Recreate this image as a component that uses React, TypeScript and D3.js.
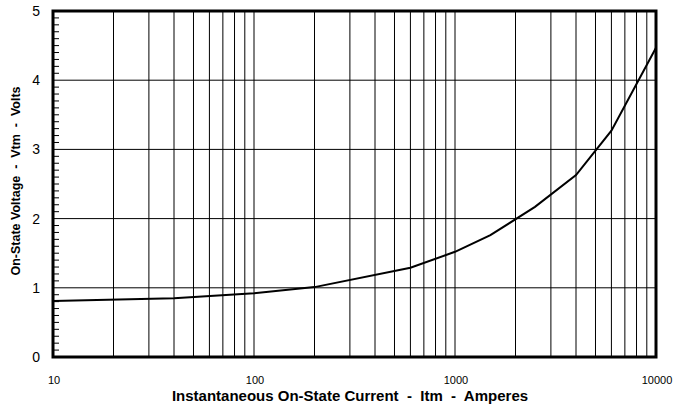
import { useRef, useEffect } from 'react';
import * as d3 from 'd3';

// current (A) vs on-state voltage (V)
const currents = [10, 40, 100, 200, 600, 1000, 1500, 2500, 4000, 6000, 10000];
const voltages = [0.81, 0.85, 0.92, 1.01, 1.29, 1.52, 1.76, 2.17, 2.63, 3.27, 4.47];
const xTickLabels = [10, 100, 1000, 10000];
const yTickLabels = [0, 1, 2, 3, 4, 5];

const width = 673;
const height = 419;
const margin = { top: 11, right: 17, bottom: 62, left: 53 };

const App = () => {
  const ref = useRef<SVGSVGElement>(null);

  useEffect(() => {
    if (!ref.current) return;
    const svg = d3.select(ref.current);
    svg.selectAll('*').remove();

    const w = width - margin.left - margin.right;
    const h = height - margin.top - margin.bottom;

    const x = d3.scaleLog().domain([10, 10000]).range([0, w]);
    const y = d3.scaleLinear().domain([0, 5]).range([h, 0]);

    const g = svg
      .append('g')
      .attr('transform', `translate(${margin.left},${margin.top})`);

    // vertical log grid (2..9 of each decade)
    const vLines: number[] = [];
    for (let dec = 10; dec < 10000; dec *= 10) {
      for (let k = 1; k <= 9; k++) {
        const v = dec * k;
        if (v > 10 && v < 10000) vLines.push(v);
      }
    }
    g.selectAll('line.vgrid')
      .data(vLines)
      .enter()
      .append('line')
      .attr('class', 'vgrid')
      .attr('x1', d => x(d))
      .attr('x2', d => x(d))
      .attr('y1', 0)
      .attr('y2', h)
      .attr('stroke', '#000')
      .attr('stroke-width', 1);

    g.selectAll('line.hgrid')
      .data([1, 2, 3, 4])
      .enter()
      .append('line')
      .attr('class', 'hgrid')
      .attr('x1', 0)
      .attr('x2', w)
      .attr('y1', d => y(d))
      .attr('y2', d => y(d))
      .attr('stroke', '#000')
      .attr('stroke-width', 1);

    // minor ticks on the left edge, every 0.1 V
    const minor = d3.range(1, 50).map(i => i / 10).filter(v => Math.round(v * 10) % 10 !== 0);
    g.selectAll('line.minor')
      .data(minor)
      .enter()
      .append('line')
      .attr('class', 'minor')
      .attr('x1', 0)
      .attr('x2', 6)
      .attr('y1', d => y(d))
      .attr('y2', d => y(d))
      .attr('stroke', '#000')
      .attr('stroke-width', 1);

    const line = d3
      .line<number>()
      .x((d, i) => x(currents[i]))
      .y(d => y(d));

    g.append('path')
      .datum(voltages)
      .attr('d', line)
      .attr('fill', 'none')
      .attr('stroke', '#000')
      .attr('stroke-width', 2);

    // frame
    g.append('rect')
      .attr('x', 0)
      .attr('y', 0)
      .attr('width', w)
      .attr('height', h)
      .attr('fill', 'none')
      .attr('stroke', '#000')
      .attr('stroke-width', 3);

    g.selectAll('text.ylab')
      .data(yTickLabels)
      .enter()
      .append('text')
      .attr('class', 'ylab')
      .attr('x', -13)
      .attr('y', d => y(d))
      .attr('dy', '0.36em')
      .attr('text-anchor', 'end')
      .style('font-family', 'Liberation Sans, Arial, sans-serif')
      .style('font-size', '14px')
      .text(d => d);

    g.selectAll('text.xlab')
      .data(xTickLabels)
      .enter()
      .append('text')
      .attr('class', 'xlab')
      .attr('x', d => x(d) + 1)
      .attr('y', h + 27)
      .attr('text-anchor', 'middle')
      .style('font-family', 'Liberation Sans, Arial, sans-serif')
      .style('font-size', '11px')
      .text(d => d);

    svg
      .append('text')
      .attr('x', 350)
      .attr('y', 401)
      .attr('text-anchor', 'middle')
      .style('font-family', 'Liberation Sans, Arial, sans-serif')
      .style('font-size', '15px')
      .style('font-weight', 'bold')
      .style('white-space', 'pre')
      .text('Instantaneous On-State Current  -  Itm  -  Amperes');

    svg
      .append('text')
      .attr('transform', 'translate(20,181) rotate(-90)')
      .attr('text-anchor', 'middle')
      .style('font-family', 'Liberation Sans, Arial, sans-serif')
      .style('font-size', '12.5px')
      .style('font-weight', 'bold')
      .style('white-space', 'pre')
      .text('On-State Voltage  -  Vtm  -  Volts');
  }, []);

  return (
    <svg
      ref={ref}
      width={width}
      height={height}
      style={{ position: 'absolute', left: 0, top: 0, background: '#fff' }}
    />
  );
};

export default App;
